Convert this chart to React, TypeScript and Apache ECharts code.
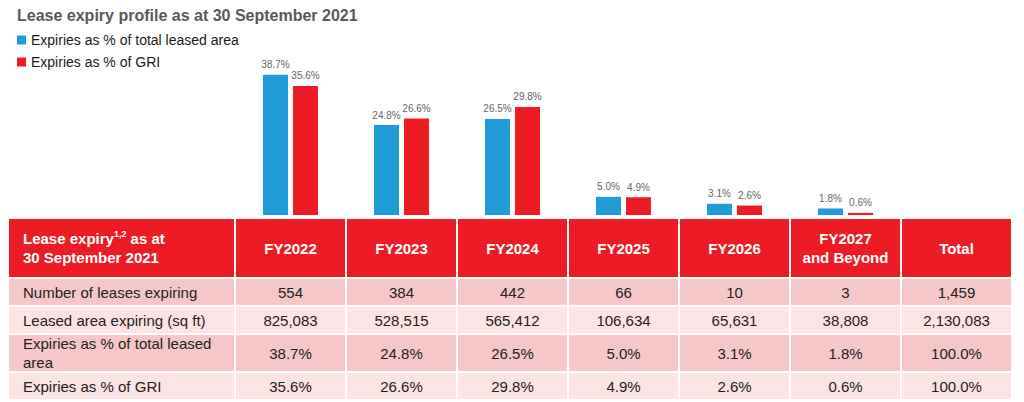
import React, { useEffect, useRef } from "react";
import * as echarts from "echarts";

const categories = ["FY2022", "FY2023", "FY2024", "FY2025", "FY2026", "FY2027\nand Beyond"];
const areaPct = [38.7, 24.8, 26.5, 5.0, 3.1, 1.8];
const griPct = [35.6, 26.6, 29.8, 4.9, 2.6, 0.6];
const leasesCount = [554, 384, 442, 66, 10, 3];
const areaSqft = [825083, 528515, 565412, 106634, 65631, 38808];
const totals = ["1,459", "2,130,083", "100.0%", "100.0%"];
const rowLabels = [
  "Number of leases expiring",
  "Leased area expiring (sq ft)",
  "Expiries as % of total leased\narea",
  "Expiries as % of GRI",
];
const seriesNames = ["Expiries as % of total leased area", "Expiries as % of GRI"];
const titleText = "Lease expiry profile as at 30 September 2021";
const totalHeader = "Total";

const BLUE = "#209BD7";
const RED = "#ED1C24";
const FONT = "'Liberation Sans', Arial, sans-serif";

export default function App() {
  const ref = useRef<HTMLDivElement>(null);
  useEffect(() => {
    document.body.style.margin = "0";
    const chart = echarts.init(ref.current!, null, { renderer: "svg" });

    const gridLeft = 235;
    const colW = 111;
    const gridTop = 70;
    const gridH = 145;
    const colBounds = [8, gridLeft];
    for (let i = 1; i <= categories.length + 1; i++) colBounds.push(gridLeft + i * colW);
    const rowBounds = [218, 278, 306, 334, 372, 400];
    const rowFills = [RED, "#F5C7C9", "#FCE4E5", "#F5C7C9", "#FCE4E5"];

    const fmtNum = (v: number) => v.toLocaleString("en-US");
    const fmtPct = (v: number) => v.toFixed(1) + "%";
    const rowValues: string[][] = [
      leasesCount.map(fmtNum),
      areaSqft.map(fmtNum),
      areaPct.map(fmtPct),
      griPct.map(fmtPct),
    ];

    const graphics: any[] = [];
    for (let r = 0; r < rowBounds.length - 1; r++) {
      const y0 = rowBounds[r];
      const y1 = rowBounds[r + 1];
      const cy = (y0 + y1) / 2;
      for (let c = 0; c < colBounds.length - 1; c++) {
        const x0 = colBounds[c];
        const x1 = colBounds[c + 1];
        graphics.push({
          type: "rect",
          shape: { x: x0 + 1, y: y0 + 1, width: x1 - x0 - 2, height: y1 - y0 - 2 },
          style: { fill: rowFills[r] },
          silent: true,
        });
        let text = "";
        if (r === 0) {
          if (c === 0) {
            graphics.push({
              type: "text",
              style: {
                text: "{b|Lease expiry}{s|1,2}{b| as at}\n{b|30 September 2021}",
                x: 23,
                y: cy,
                align: "left",
                verticalAlign: "middle",
                fill: "#fff",
                rich: {
                  b: { font: `bold 15px ${FONT}`, fill: "#fff", lineHeight: 19 },
                  s: { font: `bold 9px ${FONT}`, fill: "#fff", lineHeight: 19, verticalAlign: "top", padding: [0, 0, 6, 0] },
                },
              },
              silent: true,
            });
            continue;
          }
          text = c <= categories.length ? categories[c - 1] : totalHeader;
          graphics.push({
            type: "text",
            style: {
              text,
              x: (x0 + x1) / 2,
              y: cy,
              align: "center",
              verticalAlign: "middle",
              font: `bold 15px ${FONT}`,
              lineHeight: 19,
              fill: "#fff",
            },
            silent: true,
          });
        } else {
          if (c === 0) {
            graphics.push({
              type: "text",
              style: {
                text: rowLabels[r - 1],
                x: 23,
                y: cy,
                align: "left",
                verticalAlign: "middle",
                font: `15px ${FONT}`,
                lineHeight: 19,
                fill: "#222",
              },
              silent: true,
            });
            continue;
          }
          text = c <= categories.length ? rowValues[r - 1][c - 1] : totals[r - 1];
          graphics.push({
            type: "text",
            style: {
              text,
              x: (x0 + x1) / 2,
              y: cy,
              align: "center",
              verticalAlign: "middle",
              font: `15px ${FONT}`,
              fill: "#222",
            },
            silent: true,
          });
        }
      }
    }

    const labelCfg = {
      show: true,
      position: "top",
      distance: 5,
      color: "#666",
      fontSize: 10,
      fontFamily: FONT,
      formatter: (p: any) => Number(p.value).toFixed(1) + "%",
    };

    chart.setOption({
      animation: false,
      title: {
        text: titleText,
        left: 12,
        top: 2,
        textStyle: { color: "#595959", fontSize: 16, fontWeight: "bold", fontFamily: FONT },
      },
      legend: {
        orient: "vertical",
        left: 12,
        top: 28,
        itemWidth: 9,
        itemHeight: 9,
        itemGap: 8,
        icon: "rect",
        textStyle: { color: "#1a1a1a", fontSize: 14, fontFamily: FONT },
        data: seriesNames,
      },
      grid: { left: gridLeft, width: colW * categories.length, top: gridTop, height: gridH },
      xAxis: {
        type: "category",
        data: categories,
        axisLine: { show: false },
        axisTick: { show: false },
        axisLabel: { show: false },
      },
      yAxis: { type: "value", min: 0, max: 40, show: false, splitLine: { show: false } },
      series: [
        {
          name: seriesNames[0],
          type: "bar",
          data: areaPct,
          barWidth: 25,
          barGap: "20%",
          itemStyle: { color: BLUE },
          label: labelCfg,
        },
        {
          name: seriesNames[1],
          type: "bar",
          data: griPct,
          barWidth: 25,
          barGap: "20%",
          itemStyle: { color: RED },
          label: labelCfg,
        },
      ],
      graphic: graphics,
    });
    return () => chart.dispose();
  }, []);
  return <div ref={ref} style={{ width: 1024, height: 402 }} />;
}
